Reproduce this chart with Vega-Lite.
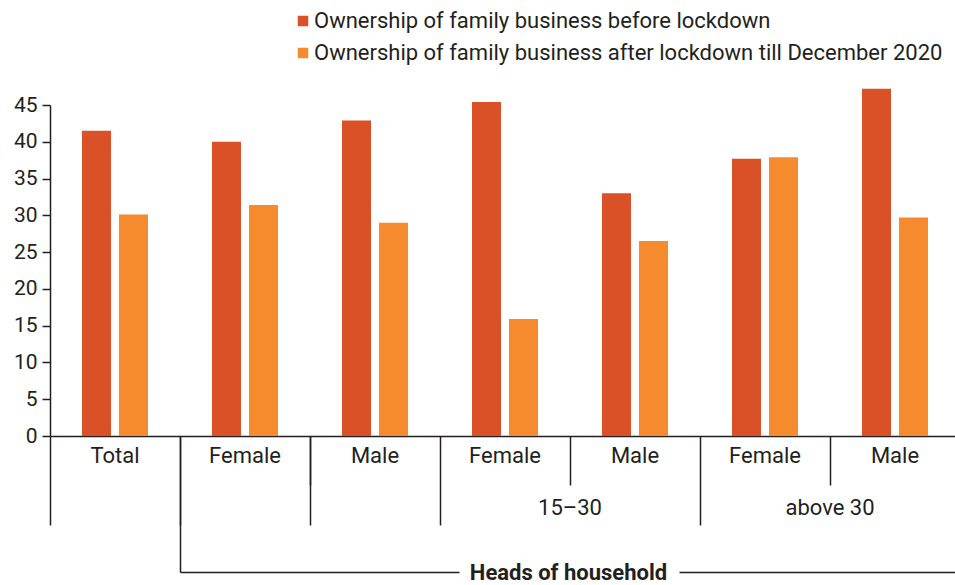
{
  "$schema": "https://vega.github.io/schema/vega-lite/v6.json",
  "width": 905,
  "height": 331,
  "autosize": "none",
  "padding": {"left": 50, "top": 105, "right": 0, "bottom": 149},
  "config": {
    "font": "Roboto",
    "view": {"stroke": null},
    "axis": {"labelColor": "#231f20", "domainColor": "#231f20", "tickColor": "#231f20", "titleColor": "#231f20", "grid": false}
  },
  "data": {
    "values": [
      {"group": "Total", "series": "Ownership of family business before lockdown", "value": 41.5},
      {"group": "Total", "series": "Ownership of family business after lockdown till December 2020", "value": 30.1},
      {"group": "Female", "series": "Ownership of family business before lockdown", "value": 40.0},
      {"group": "Female", "series": "Ownership of family business after lockdown till December 2020", "value": 31.4},
      {"group": "Male", "series": "Ownership of family business before lockdown", "value": 42.9},
      {"group": "Male", "series": "Ownership of family business after lockdown till December 2020", "value": 29.0},
      {"group": " Female ", "series": "Ownership of family business before lockdown", "value": 45.4},
      {"group": " Female ", "series": "Ownership of family business after lockdown till December 2020", "value": 15.9},
      {"group": " Male ", "series": "Ownership of family business before lockdown", "value": 33.0},
      {"group": " Male ", "series": "Ownership of family business after lockdown till December 2020", "value": 26.5},
      {"group": "  Female  ", "series": "Ownership of family business before lockdown", "value": 37.7},
      {"group": "  Female  ", "series": "Ownership of family business after lockdown till December 2020", "value": 37.9},
      {"group": "  Male  ", "series": "Ownership of family business before lockdown", "value": 47.2},
      {"group": "  Male  ", "series": "Ownership of family business after lockdown till December 2020", "value": 29.7}
    ]
  },
  "layer": [
    {
      "mark": {"type": "bar", "clip": false},
      "encoding": {
        "x": {
          "field": "group",
          "type": "nominal",
          "sort": ["Total", "Female", "Male", " Female ", " Male ", "  Female  ", "  Male  "],
          "scale": {"range": [0, 910], "paddingInner": 0, "paddingOuter": 0},
          "axis": {
            "orient": "bottom",
            "title": null,
            "labelFontSize": 22,
            "labelAngle": 0,
            "ticks": false,
            "tickSize": 0,
            "labelPadding": 9,
            "domainWidth": 1.5
          }
        },
        "xOffset": {
          "field": "series",
          "type": "nominal",
          "sort": ["Ownership of family business before lockdown", "Ownership of family business after lockdown till December 2020"],
          "scale": {"paddingInner": 0.216, "paddingOuter": 0.865}
        },
        "y": {
          "field": "value",
          "type": "quantitative",
          "scale": {"domain": [0, 45], "nice": false},
          "axis": {
            "title": null,
            "values": [0, 5, 10, 15, 20, 25, 30, 35, 40, 45],
            "labelFontSize": 21,
            "tickSize": 8,
            "tickWidth": 1.5,
            "domainWidth": 1.5,
            "labelPadding": 5
          }
        },
        "color": {
          "field": "series",
          "type": "nominal",
          "sort": ["Ownership of family business before lockdown", "Ownership of family business after lockdown till December 2020"],
          "scale": {"range": ["#da5127", "#f58a2f"]},
          "legend": {
            "title": null,
            "orient": "none",
            "legendX": 242,
            "legendY": -95,
            "symbolType": "square",
            "symbolSize": 110,
            "symbolStrokeWidth": 0,
            "labelFontSize": 22,
            "labelColor": "#231f20",
            "labelLimit": 1000,
            "labelOffset": 0,
            "rowPadding": 10
          }
        }
      }
    },
    {
      "mark": {"type": "rule", "opacity": 0},
      "encoding": {
        "x": {
          "datum": "15–30",
          "type": "nominal",
          "scale": {"domain": [" ", "15–30", "above 30"], "range": [130, 910], "paddingInner": 0, "paddingOuter": 0},
          "axis": {
            "orient": "bottom",
            "tickSize": 49,
            "tickWidth": 1.5,
            "domain": false,
            "labelFontSize": 22,
            "labelAngle": 0,
            "labelPadding": 12,
            "title": null
          }
        }
      }
    },
    {
      "mark": {"type": "rule", "opacity": 0},
      "encoding": {
        "x": {
          "datum": 0,
          "type": "quantitative",
          "scale": {"domain": [0, 7], "range": [0, 910], "nice": false, "zero": false},
          "axis": {
            "orient": "bottom",
            "values": [0, 1, 2, 3, 5],
            "labels": false,
            "tickSize": 89,
            "tickWidth": 1.5,
            "domain": false,
            "title": null
          }
        }
      }
    },
    {
      "mark": {"type": "rule", "opacity": 0},
      "encoding": {
        "x": {
          "datum": 0,
          "type": "quantitative",
          "scale": {"domain": [0, 1], "range": [130, 910], "nice": false, "zero": false},
          "axis": {
            "orient": "bottom",
            "values": [0],
            "labels": false,
            "tickSize": 136,
            "tickWidth": 1.5,
            "domain": false,
            "title": null
          }
        }
      }
    },
    {
      "mark": {"type": "rule", "opacity": 0},
      "encoding": {
        "x": {
          "datum": 0,
          "type": "quantitative",
          "scale": {"domain": [0, 1], "range": [130, 910], "nice": false, "zero": false},
          "axis": {
            "orient": "bottom",
            "offset": 136,
            "values": [0],
            "labels": false,
            "ticks": false,
            "domainDash": [279, 220, 1000],
            "domainWidth": 1.5,
            "title": "Heads of household",
            "titleFontSize": 22,
            "titleFontWeight": "bold",
            "titleBaseline": "middle",
            "titleX": 518,
            "titleY": 0
          }
        }
      }
    }
  ],
  "resolve": {"scale": {"x": "independent"}, "axis": {"x": "independent"}}
}
